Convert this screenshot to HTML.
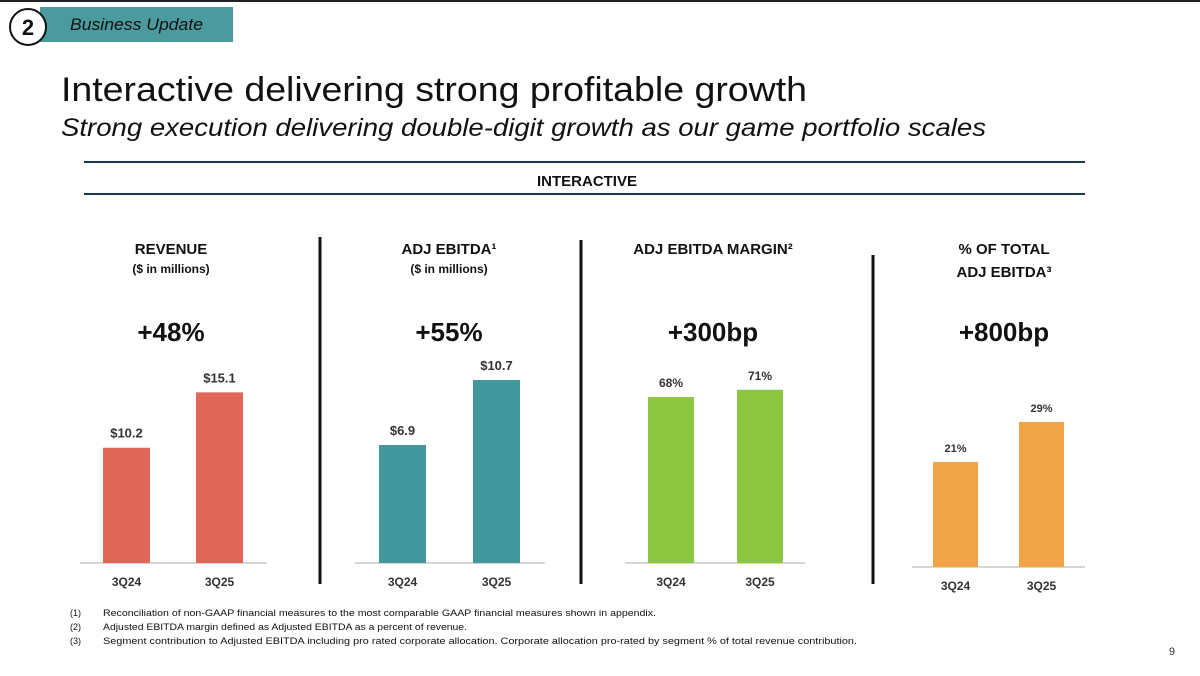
<!DOCTYPE html>
<html><head><meta charset="utf-8"><style>
body{margin:0;width:1200px;height:671px;background:#fff;overflow:hidden;font-family:"Liberation Sans",sans-serif}
svg text{font-family:"Liberation Sans",sans-serif}
</style></head><body>
<svg id="s" width="1200" height="671" viewBox="0 0 1200 671" xmlns="http://www.w3.org/2000/svg">
<line x1="0" y1="1" x2="1200" y2="1" stroke="#222" stroke-width="2"/>
<rect x="40" y="7" width="193" height="35" fill="#4b9a9e"/>
<text x="70" y="30" font-size="17" font-style="italic" fill="#111" textLength="133" lengthAdjust="spacingAndGlyphs">Business Update</text>
<circle cx="28" cy="27" r="18" fill="#fff" stroke="#111" stroke-width="2"/>
<text x="28" y="35" font-size="22" font-weight="bold" text-anchor="middle" fill="#111">2</text>
<text x="61" y="101" font-size="34" fill="#111" textLength="746" lengthAdjust="spacingAndGlyphs">Interactive delivering strong profitable growth</text>
<text x="61" y="136" font-size="25" font-style="italic" fill="#111" textLength="925" lengthAdjust="spacingAndGlyphs">Strong execution delivering double-digit growth as our game portfolio scales</text>
<line x1="84" y1="162" x2="1085" y2="162" stroke="#1f3552" stroke-width="2"/>
<line x1="84" y1="194" x2="1085" y2="194" stroke="#1f3552" stroke-width="2"/>
<text x="587" y="186" font-size="15" font-weight="bold" text-anchor="middle" fill="#111">INTERACTIVE</text>
<line x1="320" y1="237" x2="320" y2="584" stroke="#111" stroke-width="3"/>
<line x1="581" y1="240" x2="581" y2="584" stroke="#111" stroke-width="3"/>
<line x1="873" y1="255" x2="873" y2="584" stroke="#111" stroke-width="3"/>
<g id="charts"></g>
<g font-size="9" fill="#111">
<text x="70" y="616">(1)</text><text x="103" y="616" textLength="553" lengthAdjust="spacingAndGlyphs">Reconciliation of non-GAAP financial measures to the most comparable GAAP financial measures shown in appendix.</text>
<text x="70" y="630">(2)</text><text x="103" y="630" textLength="364" lengthAdjust="spacingAndGlyphs">Adjusted EBITDA margin defined as Adjusted EBITDA as a percent of revenue.</text>
<text x="70" y="644">(3)</text><text x="103" y="644" textLength="754" lengthAdjust="spacingAndGlyphs">Segment contribution to Adjusted EBITDA including pro rated corporate allocation. Corporate allocation pro-rated by segment % of total revenue contribution.</text>
</g>
<text x="1175" y="655" font-size="11" fill="#333" text-anchor="end">9</text>
</svg>
<script>
const categories=["3Q24","3Q25"];
const revenueValues=[10.2,15.1];
const ebitdaValues=[6.9,10.7];
const marginValues=[68,71];
const shareValues=[21,29];
const revenueLabels=["$10.2","$15.1"];
const ebitdaLabels=["$6.9","$10.7"];
const marginLabels=["68%","71%"];
const shareLabels=["21%","29%"];
const NS="http://www.w3.org/2000/svg";
const g=document.getElementById('charts');
function mk(tag,attrs,text){const e=document.createElementNS(NS,tag);for(const k in attrs)e.setAttribute(k,attrs[k]);if(text!==undefined)e.textContent=text;g.appendChild(e);return e;}
const panels=[
 {key:'revenue',vals:revenueValues,labels:revenueLabels,color:'#e0665a',x0:80,x1:267,bx:[103,196],bw:47,base:563,scale:11.3,titles:['REVENUE','($ in millions)'],growth:'+48%',cx:171,ty:[254,273],gy:341,lfs:13},
 {key:'ebitda',vals:ebitdaValues,labels:ebitdaLabels,color:'#43989d',x0:355,x1:545,bx:[379,473],bw:47,base:563,scale:17.1,titles:['ADJ EBITDA¹','($ in millions)'],growth:'+55%',cx:449,ty:[254,273],gy:341,lfs:13},
 {key:'margin',vals:marginValues,labels:marginLabels,color:'#8dc641',x0:625,x1:805,bx:[648,737],bw:46,base:563,scale:2.44,titles:['ADJ EBITDA MARGIN²'],growth:'+300bp',cx:713,ty:[254],gy:341,lfs:12},
 {key:'share',vals:shareValues,labels:shareLabels,color:'#f0a446',x0:912,x1:1085,bx:[933,1019],bw:45,base:567,scale:5.0,titles:['% OF TOTAL','ADJ EBITDA³'],growth:'+800bp',cx:1004,ty:[254,277],gy:341,lfs:11}
];
panels.forEach(p=>{
 p.titles.forEach((t,i)=>{
  const e=mk('text',{x:p.cx,y:p.ty[i],'font-size':i===0||p.key==='share'?15:12,'font-weight':'bold','text-anchor':'middle',fill:'#111'},t);
  
  
 });
 const gr=mk('text',{x:p.cx,y:p.gy,'font-size':26,'font-weight':'bold','text-anchor':'middle',fill:'#111'},p.growth);
 
 
 const ax=mk('line',{x1:p.x0,y1:p.base,x2:p.x1,y2:p.base,stroke:'#c8c8c8','stroke-width':1.5});
 
 
 p.vals.forEach((v,i)=>{
  const h=v*p.scale;
  const r=mk('rect',{x:p.bx[i],y:p.base-h,width:p.bw,height:h,fill:p.color});
  
  
  const l=mk('text',{x:p.bx[i]+p.bw/2,y:p.base-h-10,'font-size':p.lfs,'font-weight':'bold','text-anchor':'middle',fill:'#333'},p.labels[i]);
  
  
  const c=mk('text',{x:p.bx[i]+p.bw/2,y:p.base+23,'font-size':12,'font-weight':'bold','text-anchor':'middle',fill:'#333'},categories[i]);
  
  
 });
});
</script>
</body></html>
